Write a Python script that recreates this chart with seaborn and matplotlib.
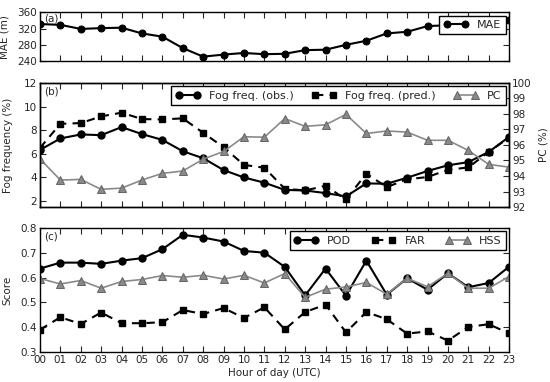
import numpy as np
import pandas as pd
import matplotlib
matplotlib.use("Agg")
import matplotlib.pyplot as plt
import seaborn as sns

hours = list(range(24))
hour_labels = ["%02d" % h for h in hours]

# (a) mean absolute error (m)
mae = [331, 329, 319, 321, 322, 308, 300, 272, 251, 256, 260, 257,
       258, 267, 268, 280, 290, 308, 312, 326, 328, 330, 333, 340]

# (b) fog frequency (%) and percent correct (%)
fog_obs = [6.33, 7.3, 7.64, 7.58, 8.26, 7.67, 7.18, 6.22, 5.63, 4.63, 4.0, 3.56,
           2.95, 2.9, 2.68, 2.4, 3.5, 3.47, 3.98, 4.55, 5.03, 5.3, 6.16, 7.44]
fog_pred = [6.5, 8.54, 8.6, 9.17, 9.48, 8.94, 8.91, 9.0, 7.78, 6.56, 5.06, 4.83,
            3.05, 2.9, 3.3, 2.14, 4.32, 3.19, 3.84, 4.04, 4.65, 4.85, 6.16, 7.38]
pc = [95.1, 93.74, 93.78, 93.14, 93.22, 93.74, 94.17, 94.32, 95.09, 95.58, 96.53, 96.5,
      97.7, 97.2, 97.3, 97.97, 96.74, 96.9, 96.83, 96.3, 96.3, 95.65, 94.75, 94.57]

# (c) skill scores
pod = [0.636, 0.66, 0.66, 0.655, 0.668, 0.678, 0.714, 0.772, 0.761, 0.745, 0.707, 0.70,
       0.643, 0.528, 0.636, 0.527, 0.668, 0.531, 0.597, 0.551, 0.617, 0.561, 0.578, 0.644]
far = [0.39, 0.44, 0.413, 0.459, 0.416, 0.416, 0.42, 0.469, 0.453, 0.477, 0.437, 0.48,
       0.391, 0.461, 0.491, 0.379, 0.461, 0.432, 0.374, 0.383, 0.346, 0.401, 0.412, 0.375]
hss = [0.596, 0.574, 0.588, 0.557, 0.584, 0.592, 0.608, 0.601, 0.609, 0.594, 0.609, 0.578,
       0.616, 0.52, 0.553, 0.562, 0.58, 0.533, 0.597, 0.563, 0.617, 0.557, 0.557, 0.604]

sns.set_style("ticks")
plt.rcParams["font.family"] = ["DejaVu Sans"]
plt.rcParams.update({
    "xtick.direction": "in", "ytick.direction": "in",
    "xtick.top": True, "ytick.right": True,
    "xtick.major.size": 4, "ytick.major.size": 4,
    "xtick.major.pad": 2, "ytick.major.pad": 2,
    "axes.edgecolor": "black", "axes.linewidth": 1.0,
    "xtick.labelsize": 7.5, "ytick.labelsize": 7.5,
    "legend.fontsize": 8,
})

gray = "#8a8a8a"
black_o = dict(color="k", marker="o", markersize=5, linewidth=1.5, markeredgecolor="k")
black_s = dict(color="k", marker="s", markersize=5, linewidth=1.5, linestyle="--",
               markeredgecolor="k", dashes=(4, 3))
gray_t = dict(color=gray, marker="^", markersize=5.5, linewidth=1.2,
              markeredgecolor="#666666")

fig = plt.figure(figsize=(5.5, 3.82), dpi=100)
ax_a = fig.add_axes([0.0727, 0.840, 0.853, 0.128])
ax_b = fig.add_axes([0.0727, 0.458, 0.853, 0.325])
ax_c = fig.add_axes([0.0727, 0.0785, 0.853, 0.325])

leg_kw = dict(numpoints=2, fancybox=False, edgecolor="k", framealpha=1,
              handlelength=2.2, borderaxespad=0.3)

# (a)
sns.lineplot(x=hours, y=mae, ax=ax_a, label="MAE", **black_o)
ax_a.set_ylim(240, 360)
ax_a.set_yticks([240, 280, 320, 360])
ax_a.set_ylabel("MAE (m)", fontsize=7.5, labelpad=6)
ax_a.legend(loc="upper right", **leg_kw)

# (b)
ax_b2 = ax_b.twinx()
ax_b.plot(hours, fog_obs, label="Fog freq. (obs.)", **black_o)
ax_b.plot(hours, fog_pred, label="Fog freq. (pred.)", **black_s)
sns.lineplot(x=hours, y=pc, ax=ax_b2, label="PC", legend=False, **gray_t)
ax_b.set_ylim(1.5, 12)
ax_b.set_yticks([2, 4, 6, 8, 10, 12])
ax_b2.set_ylim(92, 100)
ax_b2.set_yticks(range(92, 101))
ax_b.set_ylabel("Fog frequency (%)", fontsize=7.5, labelpad=8)
ax_b2.set_ylabel("PC (%)", fontsize=7.5, labelpad=5)
ax_b2.tick_params(direction="in", labelsize=7.5, pad=2)
ax_b.tick_params(right=False)
h1, lab1 = ax_b.get_legend_handles_labels()
h2, lab2 = ax_b2.get_legend_handles_labels()
ax_b2.legend(h1 + h2, lab1 + lab2, loc="upper right", ncol=3, columnspacing=1.6, **leg_kw)

# (c)
ax_c.plot(hours, pod, label="POD", **black_o)
ax_c.plot(hours, far, label="FAR", **black_s)
sns.lineplot(x=hours, y=hss, ax=ax_c, label="HSS", **gray_t)
ax_c.set_ylim(0.3, 0.8)
ax_c.set_yticks([0.3, 0.4, 0.5, 0.6, 0.7, 0.8])
ax_c.set_ylabel("Score", fontsize=7.5, labelpad=6)
ax_c.set_xlabel("Hour of day (UTC)", fontsize=7.5, labelpad=2)
ax_c.legend(loc="upper right", ncol=3, columnspacing=1.8, **leg_kw)

for ax, tag in [(ax_a, "(a)"), (ax_b, "(b)"), (ax_c, "(c)")]:
    ax.set_xlim(0, 23)
    ax.set_xticks(hours)
    ax.text(0.008, 0.97, tag, transform=ax.transAxes, ha="left", va="top", fontsize=7.5)
ax_a.set_xticklabels([])
ax_b.set_xticklabels([])
ax_c.set_xticklabels(hour_labels)
ax_b2.set_xlim(0, 23)

fig.savefig("out.png", dpi=100)
